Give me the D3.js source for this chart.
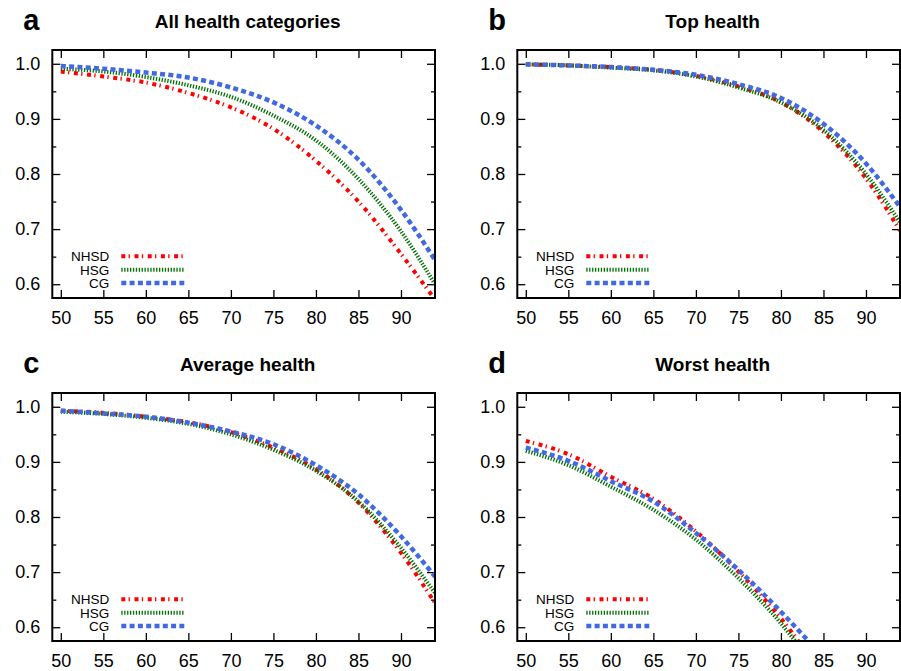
<!DOCTYPE html>
<html>
<head>
<meta charset="utf-8">
<script src="https://cdn.jsdelivr.net/npm/d3@7"></script>
<style>
  body { margin: 0; background: #fff; }
  text { font-family: "Liberation Sans", Arial, Helvetica, sans-serif; fill: #000; }
</style>
</head>
<body>
<script>
// ages
var ages = [50, 55, 60, 65, 70, 75, 80, 85, 90, 94];
var xTicks = [50, 55, 60, 65, 70, 75, 80, 85, 90];
var yTicks = [0.6, 0.7, 0.8, 0.9, 1.0];
var yMinor = [0.65, 0.75, 0.85, 0.95];
var seriesNames = ["NHSD", "HSG", "CG"];

// a - all health categories
var allNHSD = [0.986, 0.977, 0.966, 0.947, 0.921, 0.882, 0.824, 0.750, 0.655, 0.572];
var allHSG  = [0.991, 0.986, 0.976, 0.961, 0.940, 0.906, 0.861, 0.791, 0.696, 0.600];
var allCG   = [0.996, 0.991, 0.984, 0.975, 0.957, 0.930, 0.888, 0.826, 0.735, 0.644];

// b - top health
var topNHSD = [0.999, 0.997, 0.994, 0.989, 0.978, 0.959, 0.930, 0.876, 0.792, 0.697];
var topHSG  = [0.999, 0.997, 0.993, 0.988, 0.977, 0.957, 0.930, 0.880, 0.800, 0.712];
var topCG   = [0.999, 0.997, 0.994, 0.989, 0.980, 0.963, 0.938, 0.891, 0.819, 0.740];

// c - average health
var avgNHSD = [0.993, 0.989, 0.982, 0.972, 0.954, 0.926, 0.887, 0.826, 0.735, 0.644];
var avgHSG  = [0.991, 0.987, 0.980, 0.969, 0.950, 0.922, 0.884, 0.828, 0.744, 0.662];
var avgCG   = [0.993, 0.988, 0.982, 0.971, 0.955, 0.932, 0.894, 0.841, 0.765, 0.692];

// d - worst health (runs off the bottom before 85)
var worstNHSD = [0.938, 0.914, 0.873, 0.833, 0.774, 0.701, 0.616, 0.510, null, null];
var worstHSG  = [0.920, 0.894, 0.855, 0.813, 0.759, 0.689, 0.607, 0.505, null, null];
var worstCG   = [0.926, 0.902, 0.865, 0.828, 0.771, 0.704, 0.628, 0.545, null, null];

var styles = [
  {color: "#ff0000", width: 4,   dash: "4,3.3,1.3,4.6"},
  {color: "#007000", width: 4,   dash: "1.3,1.6"},
  {color: "#4169e1", width: 4.5, dash: "5,3.3"}
];

var svg = d3.select("body").append("svg")
  .attr("width", 901)
  .attr("height", 671);

function drawPanel(id, letter, title, left, top, series) {
  var w = 382.7, h = 248;
  var g = svg.append("g").attr("transform", "translate(" + left + "," + top + ")");

  var x = d3.scaleLinear().domain([49, 94]).range([0, w]);
  var y = d3.scaleLinear().domain([0.575, 1.025]).range([h, 0]);

  // panel letter + title
  svg.append("text")
    .attr("x", left - 29).attr("y", top - 20)
    .style("font-size", "29px").style("font-weight", "bold")
    .text(letter);
  svg.append("text")
    .attr("x", left + w / 2 + 4).attr("y", top - 22)
    .attr("text-anchor", "middle")
    .style("font-size", "19px").style("font-weight", "bold")
    .text(title);

  // axes, ticks pointing inward
  var bottom = g.append("g").attr("transform", "translate(0," + h + ")")
    .call(d3.axisBottom(x).tickValues(xTicks).tickSize(-8).tickPadding(13).tickFormat(d3.format("d")));
  var topAx = g.append("g")
    .call(d3.axisTop(x).tickValues(xTicks).tickSize(-8).tickFormat(""));
  var leftAx = g.append("g")
    .call(d3.axisLeft(y).tickValues(yTicks).tickSize(-8).tickPadding(12).tickFormat(d3.format(".1f")));
  var rightAx = g.append("g").attr("transform", "translate(" + w + ",0)")
    .call(d3.axisRight(y).tickValues(yTicks).tickSize(-8).tickFormat(""));
  var leftMin = g.append("g")
    .call(d3.axisLeft(y).tickValues(yMinor).tickSize(-4).tickFormat(""));
  var rightMin = g.append("g").attr("transform", "translate(" + w + ",0)")
    .call(d3.axisRight(y).tickValues(yMinor).tickSize(-4).tickFormat(""));

  [bottom, topAx, leftAx, rightAx, leftMin, rightMin].forEach(function(a) {
    a.select(".domain").remove();
    a.selectAll(".tick line").attr("stroke", "#000").attr("stroke-width", 1.3);
    a.selectAll(".tick text").style("font-size", "18px").style("font-family", "Liberation Sans, Arial, sans-serif");
  });

  g.append("clipPath").attr("id", "clip_" + id)
    .append("rect").attr("width", w).attr("height", h);

  var line = d3.line()
    .defined(function(d) { return d[1] != null; })
    .x(function(d) { return x(d[0]); })
    .y(function(d) { return y(d[1]); })
    .curve(d3.curveMonotoneX);

  series.map(function(vals, i) {
    var pts = ages.map(function(a, k) { return [a, vals[k]]; });
    g.append("path")
      .attr("clip-path", "url(#clip_" + id + ")")
      .attr("d", line(pts))
      .attr("fill", "none")
      .attr("stroke", styles[i].color)
      .attr("stroke-width", styles[i].width)
      .attr("stroke-dasharray", styles[i].dash);
  });

  // legend
  seriesNames.map(function(name, i) {
    var ly = h - 41.7 + i * 13.4;
    g.append("text")
      .attr("x", 57).attr("y", ly + 4.8)
      .attr("text-anchor", "end")
      .style("font-size", "13.5px")
      .text(name);
    g.append("line")
      .attr("x1", 69).attr("x2", 132)
      .attr("y1", ly).attr("y2", ly)
      .attr("stroke", styles[i].color)
      .attr("stroke-width", styles[i].width)
      .attr("stroke-dasharray", styles[i].dash);
  });

  g.append("rect")
    .attr("width", w).attr("height", h)
    .attr("fill", "none").attr("stroke", "#000").attr("stroke-width", 2);
}

drawPanel("a", "a", "All health categories", 52.3, 50, [allNHSD, allHSG, allCG]);
drawPanel("b", "b", "Top health", 517.3, 50, [topNHSD, topHSG, topCG]);
drawPanel("c", "c", "Average health", 52.3, 393, [avgNHSD, avgHSG, avgCG]);
drawPanel("d", "d", "Worst health", 517.3, 393, [worstNHSD, worstHSG, worstCG]);
</script>
</body>
</html>
